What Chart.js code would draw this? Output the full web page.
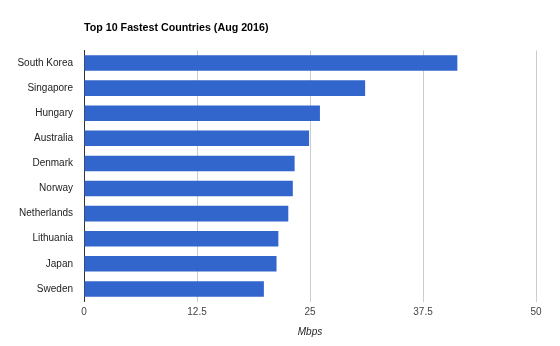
<!DOCTYPE html>
<html>
<head>
<meta charset="utf-8">
<script src="https://cdn.jsdelivr.net/npm/chart.js@4/dist/chart.umd.min.js"></script>
<style>
  html, body { margin: 0; padding: 0; background: #fff; }
  #wrap { width: 560px; height: 346px; position: relative; }
</style>
</head>
<body>
<div id="wrap"><canvas id="chart"></canvas></div>
<script>
// Average connection speed by country, Mbps
const countries = ['South Korea', 'Singapore', 'Hungary', 'Australia', 'Denmark',
    'Norway', 'Netherlands', 'Lithuania', 'Japan', 'Sweden'];
const speeds = [41.3, 31.1, 26.1, 24.9, 23.3, 23.1, 22.6, 21.5, 21.3, 19.9];
const xTicks = [0, 12.5, 25, 37.5, 50];

const FONT = 'Arial, "Liberation Sans", sans-serif';

const ctx = document.getElementById('chart').getContext('2d');

new Chart(ctx, {
    type: 'bar',
    data: {
        labels: countries,
        datasets: [{
            label: 'Mbps',
            data: speeds,
            backgroundColor: '#3366cc',
            borderWidth: 0,
            barPercentage: 0.62,
            categoryPercentage: 1
        }]
    },
    options: {
        indexAxis: 'y',
        responsive: true,
        maintainAspectRatio: false,
        animation: false,
        layout: { padding: { left: 0, right: 24, top: 0, bottom: 0 } },
        plugins: {
            legend: { display: false },
            tooltip: { enabled: false },
            title: {
                display: true,
                text: 'Top 10 Fastest Countries (Aug 2016)',
                align: 'start',
                fullSize: false,
                color: '#000',
                font: { family: FONT, size: 10.7, weight: 'bold', lineHeight: 1.35 },
                padding: { top: 21, bottom: 15 }
            }
        },
        scales: {
            x: {
                min: 0,
                max: 50,
                afterBuildTicks: s => { s.ticks = xTicks.map(v => ({ value: v })); },
                afterFit: s => { s.height = 44.5; },
                grid: {
                    color: c => c.tick && c.tick.value === 0 ? 'rgba(0,0,0,0)' : '#cccccc',
                    lineWidth: 1,
                    drawTicks: false
                },
                border: { display: false },
                ticks: {
                    color: '#444',
                    padding: 5,
                    maxRotation: 0,
                    font: { family: FONT, size: 10 },
                    callback: v => String(v)
                },
                title: {
                    display: true,
                    text: 'Mbps',
                    color: '#222',
                    font: { family: FONT, size: 10, style: 'italic', lineHeight: 1.2 },
                    padding: { top: 0, bottom: 8 }
                }
            },
            y: {
                afterFit: s => { s.width = 84; },
                grid: { display: false, drawTicks: false },
                border: { display: true, color: '#333', width: 1 },
                ticks: {
                    color: '#222',
                    padding: 11,
                    font: { family: FONT, size: 10 }
                }
            }
        }
    }
});
</script>
</body>
</html>
